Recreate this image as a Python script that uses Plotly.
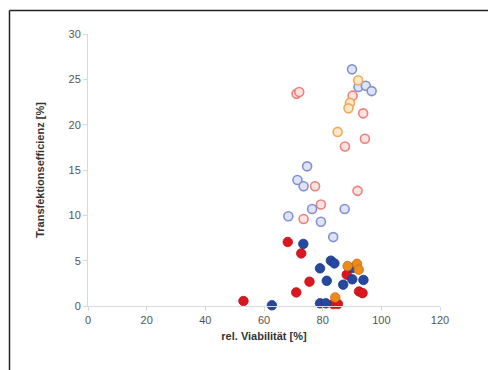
import plotly.graph_objects as go

# Solid series
red_x = [68.1, 72.7, 75.5, 71.0, 88.2, 92.4, 93.6, 53.0, 83.6, 85.2]
red_y = [7.06, 5.8, 2.68, 1.5, 3.45, 1.6, 1.42, 0.55, 0.22, 0.22]

blue_x = [73.4, 79.1, 82.8, 84.0, 90.2, 90.1, 93.9, 81.4, 87.0, 62.7, 79.1, 81.1]
blue_y = [6.85, 4.15, 5.0, 4.7, 4.2, 2.94, 2.87, 2.78, 2.35, 0.08, 0.3, 0.3]

orange_x = [88.5, 91.7, 92.3, 84.3]
orange_y = [4.4, 4.65, 4.0, 0.95]

# Hollow series
lred_x = [71.1, 72.0, 90.2, 93.8, 94.4, 87.6, 77.4, 91.9, 79.4, 73.5]
lred_y = [23.4, 23.6, 23.2, 21.25, 18.45, 17.6, 13.2, 12.7, 11.2, 9.6]

lblue_x = [90.0, 92.2, 94.7, 96.7, 74.7, 71.4, 73.5, 76.4, 87.5, 68.3, 79.4, 83.6]
lblue_y = [26.1, 24.15, 24.3, 23.7, 15.4, 13.9, 13.2, 10.7, 10.7, 9.9, 9.3, 7.6]

lorange_x = [92.1, 89.3, 88.8, 85.1]
lorange_y = [24.9, 22.4, 21.8, 19.2]

x_ticks = [0, 20, 40, 60, 80, 100, 120]
y_ticks = [0, 5, 10, 15, 20, 25, 30]

fig = go.Figure()

def hollow(x, y, line, fill):
    fig.add_trace(go.Scatter(
        x=x, y=y, mode="markers", cliponaxis=False,
        marker=dict(size=9, color=fill, line=dict(color=line, width=1.6)),
        showlegend=False))

def solid(x, y, col, line):
    fig.add_trace(go.Scatter(
        x=x, y=y, mode="markers", cliponaxis=False,
        marker=dict(size=9.5, color=col, line=dict(color=line, width=0.8)),
        showlegend=False))

hollow(lred_x, lred_y, "rgb(236,128,122)", "rgb(252,226,224)")
hollow(lblue_x, lblue_y, "rgb(128,146,210)", "rgb(222,227,245)")
hollow(lorange_x, lorange_y, "rgb(238,170,90)", "rgb(252,232,200)")
solid(red_x, red_y, "rgb(220,22,30)", "rgb(190,15,22)")
solid(blue_x, blue_y, "rgb(38,72,160)", "rgb(28,55,130)")
solid(orange_x, orange_y, "rgb(236,138,28)", "rgb(205,110,15)")

OFF = 8  # page body margin
L, R, T, B = 80, 64, 26, 72
W, H = 496, 370
pw = W - L - R
ph = H - T - B

def px(xpix):
    return (xpix - OFF - L) / pw

def py(ypix):
    return (H - B - (ypix - OFF)) / ph

fig.update_layout(
    width=W, height=H,
    margin=dict(l=L, r=R, t=T, b=B, autoexpand=False),
    paper_bgcolor="white", plot_bgcolor="white",
    font=dict(family="Liberation Sans, Arial, sans-serif", size=11, color="#555555"),
    xaxis=dict(
        range=[0, 120], tickvals=x_ticks, ticktext=[str(v) for v in x_ticks],
        showgrid=False, zeroline=False, showline=True, linecolor="#d9d9d9", linewidth=1,
        ticks="outside", ticklen=4, tickcolor="#d9d9d9",
        tickfont=dict(size=11, color="#555555"),
        title=dict(text="<b>rel. Viabilität [%]</b>", font=dict(size=11, color="#333333"), standoff=7),
    ),
    yaxis=dict(
        range=[0, 30], tickvals=y_ticks, ticktext=[str(v) for v in y_ticks],
        showgrid=False, zeroline=False, showline=True, linecolor="#d9d9d9", linewidth=1,
        ticks="outside", ticklen=4, tickcolor="#d9d9d9",
        tickfont=dict(size=11, color="#555555"),
        title=dict(text="<b>Transfektionsefficienz [%]</b>", font=dict(size=11, color="#333333"), standoff=21),
    ),
    shapes=[
        dict(type="line", xref="paper", yref="paper",
             x0=px(9.5), x1=px(520), y0=py(10.5), y1=py(10.5),
             line=dict(color="#222222", width=1.5)),
        dict(type="line", xref="paper", yref="paper",
             x0=px(9.5), x1=px(9.5), y0=py(10.5), y1=py(390),
             line=dict(color="#222222", width=1.5)),
    ],
)

fig.write_html("out.html")
